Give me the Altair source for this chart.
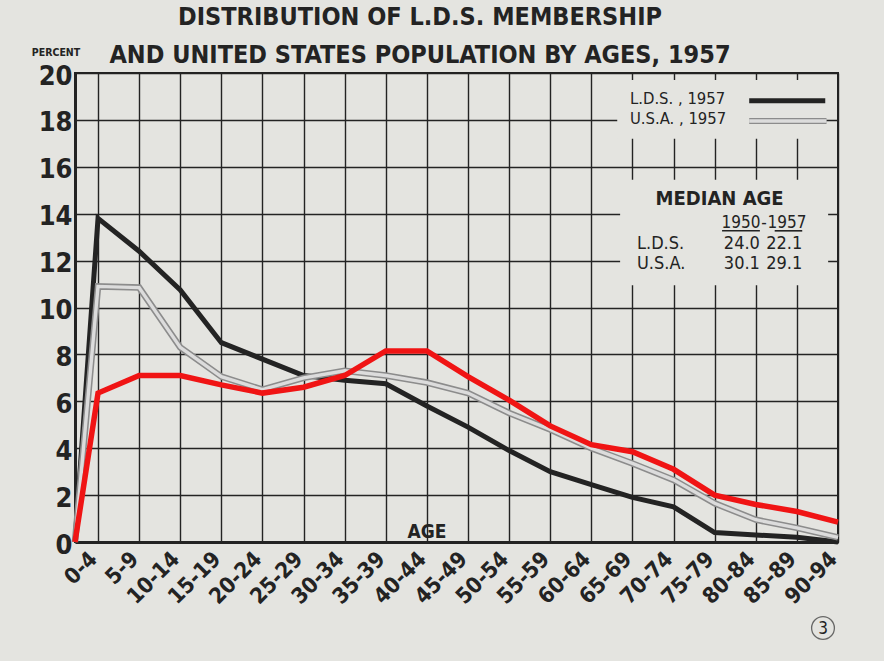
import altair as alt
import pandas as pd

# ---------------- data ----------------
age_groups = ["0-4", "5-9", "10-14", "15-19", "20-24", "25-29", "30-34", "35-39",
              "40-44", "45-49", "50-54", "55-59", "60-64", "65-69", "70-74",
              "75-79", "80-84", "85-89", "90-94"]
lds_1957 = [13.8, 12.4, 10.75, 8.5, 7.8, 7.1, 6.9, 6.75, 5.8, 4.9, 3.9, 3.0,
            2.45, 1.9, 1.5, 0.4, 0.3, 0.2, 0.0]
usa_1957 = [10.9, 10.85, 8.3, 7.05, 6.5, 7.0, 7.3, 7.1, 6.8, 6.35, 5.5, 4.8,
            4.0, 3.35, 2.65, 1.65, 0.95, 0.6, 0.2]
red_series = [6.35, 7.1, 7.1, 6.7, 6.35, 6.6, 7.1, 8.15, 8.15, 7.05, 6.05, 4.95,
              4.15, 3.85, 3.1, 2.0, 1.6, 1.3, 0.85]
y_ticks = [0, 2, 4, 6, 8, 10, 12, 14, 16, 18, 20]
median_rows = ["L.D.S.", "U.S.A."]
median_1950 = ["24.0", "30.1"]
median_1957 = ["22.1", "29.1"]

X_MIN = -0.56          # the left axis sits a little before the first age group
X_MAX = len(age_groups) - 1

BG = "#e4e4e0"
INK = "#232323"
FONT = "'Liberation Sans Narrow', 'DejaVu Sans Condensed', Roboto, sans-serif"

def series_frame(name, vals):
    xs = [X_MIN] + list(range(len(vals)))
    ys = [0.0] + list(vals)
    return pd.DataFrame({"x": xs, "y": ys, "series": name})

lds_df = series_frame("L.D.S., 1957", lds_1957)
usa_df = series_frame("U.S.A., 1957", usa_1957)
red_df = series_frame("red", red_series)

xscale = alt.Scale(domain=[X_MIN, X_MAX], nice=False, zero=False)
yscale = alt.Scale(domain=[0, 20], nice=False)

label_arr = "[" + ",".join("'%s'" % a for a in age_groups) + "]"

xaxis = alt.Axis(values=list(range(len(age_groups))), grid=True, gridColor=INK,
                 gridWidth=1.4, gridOpacity=1, ticks=False, domainColor=INK,
                 domainWidth=3, labelExpr=label_arr + "[datum.value]",
                 labelAngle=-45, labelFont=FONT, labelFontWeight="bold",
                 labelFontSize=22, labelColor=INK, labelPadding=6,
                 labelOffset=-12, title=None, labelOverlap=False)
yaxis = alt.Axis(values=y_ticks, grid=True, gridColor=INK, gridWidth=1.4,
                 gridOpacity=1, ticks=False, domainColor=INK, domainWidth=3,
                 labelFont=FONT, labelFontWeight="bold", labelFontSize=27,
                 labelColor=INK, labelPadding=3, labelOffset=3, title=None,
                 labelBaseline="middle")

def line(df, color, width):
    return alt.Chart(df).mark_line(color=color, strokeWidth=width,
                                   strokeJoin="miter", strokeCap="butt").encode(
        x=alt.X("x:Q", scale=xscale, axis=xaxis),
        y=alt.Y("y:Q", scale=yscale, axis=yaxis),
    )

# blank panels where the grid is interrupted (legend + median-age box)
boxes = pd.DataFrame({"x": [12.63, 12.70], "x2": [17.69, 17.76],
                      "y": [19.7, 15.45], "y2": [17.2, 10.95]})
box_layer = alt.Chart(boxes).mark_rect(fill=BG).encode(
    x=alt.X("x:Q", scale=xscale), x2="x2:Q",
    y=alt.Y("y:Q", scale=yscale), y2="y2:Q")

# legend
leg_text = pd.DataFrame({"x": [12.94, 12.94], "y": [18.9, 18.04],
                         "t": ["L.D.S. , 1957", "U.S.A. , 1957"]})
leg_text_layer = alt.Chart(leg_text).mark_text(
    align="left", baseline="middle", font=FONT, fontSize=16.5,
    color=INK).encode(
    x=alt.X("x:Q", scale=xscale), y=alt.Y("y:Q", scale=yscale), text="t:N")
leg_lines = pd.DataFrame({"x": [15.84, 15.84], "x2": [17.69, 17.72],
                          "y": [18.82, 17.95], "s": ["lds", "usa"]})
leg_black = alt.Chart(leg_lines[leg_lines.s == "lds"]).mark_rule(
    color=INK, strokeWidth=5).encode(
    x=alt.X("x:Q", scale=xscale), x2="x2:Q", y=alt.Y("y:Q", scale=yscale))
leg_grey_out = alt.Chart(leg_lines[leg_lines.s == "usa"]).mark_rule(
    color="#8c8c8c", strokeWidth=6).encode(
    x=alt.X("x:Q", scale=xscale), x2="x2:Q", y=alt.Y("y:Q", scale=yscale))
leg_grey_in = alt.Chart(leg_lines[leg_lines.s == "usa"]).mark_rule(
    color="#dcdcdc", strokeWidth=3.4).encode(
    x=alt.X("x:Q", scale=xscale), x2="x2:Q", y=alt.Y("y:Q", scale=yscale))

# median age table
med_title = alt.Chart(pd.DataFrame({"x": [15.12], "y": [14.62], "t": ["MEDIAN AGE"]})).mark_text(
    align="center", baseline="middle", font=FONT, fontSize=20, fontWeight="bold",
    color=INK).encode(
    x=alt.X("x:Q", scale=xscale), y=alt.Y("y:Q", scale=yscale), text="t:N")
yr_df = pd.DataFrame({"x": [15.64, 16.2, 16.76], "y": [13.62] * 3,
                      "t": ["1950", "-", "1957"]})
yr_layer = alt.Chart(yr_df).mark_text(
    align="center", baseline="middle", font=FONT, fontSize=17, color=INK).encode(
    x=alt.X("x:Q", scale=xscale), y=alt.Y("y:Q", scale=yscale), text="t:N")
ul_df = pd.DataFrame({"x": [15.18, 16.46], "x2": [16.1, 17.13], "y": [13.27, 13.27]})
ul_layer = alt.Chart(ul_df).mark_rule(color=INK, strokeWidth=1.6).encode(
    x=alt.X("x:Q", scale=xscale), x2="x2:Q", y=alt.Y("y:Q", scale=yscale))
row_df = pd.DataFrame({"x": [13.11, 13.11], "y": [12.71, 11.85], "t": median_rows})
row_layer = alt.Chart(row_df).mark_text(
    align="left", baseline="middle", font=FONT, fontSize=18, color=INK).encode(
    x=alt.X("x:Q", scale=xscale), y=alt.Y("y:Q", scale=yscale), text="t:N")
val_df = pd.DataFrame({"x": [16.1, 16.1, 17.13, 17.13],
                       "y": [12.71, 11.85, 12.71, 11.85],
                       "t": median_1950 + median_1957})
val_layer = alt.Chart(val_df).mark_text(
    align="right", baseline="middle", font=FONT, fontSize=18, color=INK).encode(
    x=alt.X("x:Q", scale=xscale), y=alt.Y("y:Q", scale=yscale), text="t:N")

# texts outside / on the frame (pixel positions relative to plot origin)
def ptext(t, x, y, size, weight="bold", align="center", baseline="alphabetic"):
    return alt.Chart(pd.DataFrame({"t": [t]})).mark_text(
        align=align, baseline=baseline, font=FONT, fontSize=size,
        fontWeight=weight, color=INK).encode(
        x=alt.value(x), y=alt.value(y), text="t:N")

title1 = ptext("DISTRIBUTION OF L.D.S. MEMBERSHIP", 345, -48, 25)
title2 = ptext("AND UNITED STATES POPULATION BY AGES, 1957", 345, -10, 25)
percent = ptext("PERCENT", -19, -17, 10.5)
age_lbl = ptext("AGE", 352, 465, 19)
page_circle = alt.Chart(pd.DataFrame({"a": [1]})).mark_point(
    shape="circle", size=520, filled=False, color="#333", strokeWidth=1.3).encode(
    x=alt.value(748), y=alt.value(555))
page_num = ptext("3", 748, 561, 17, weight="normal")

chart = alt.layer(
    box_layer,
    line(lds_df, INK, 5),
    line(usa_df, "#8c8c8c", 6.5),
    line(usa_df, "#dcdcdc", 3.4),
    line(red_df, "#f01414", 5.5),
    leg_text_layer, leg_black, leg_grey_out, leg_grey_in,
    med_title, yr_layer, ul_layer, row_layer, val_layer,
    title1, title2, percent, age_lbl, page_circle, page_num,
).properties(
    width=763, height=469,
    autosize=alt.AutoSizeParams(type="none"),
    padding={"left": 75, "top": 73, "right": 46, "bottom": 119},
    background=BG,
).configure_view(stroke=INK, strokeWidth=2, fill=BG)

chart.save("out.html", embed_options={"renderer": "svg", "actions": False})
